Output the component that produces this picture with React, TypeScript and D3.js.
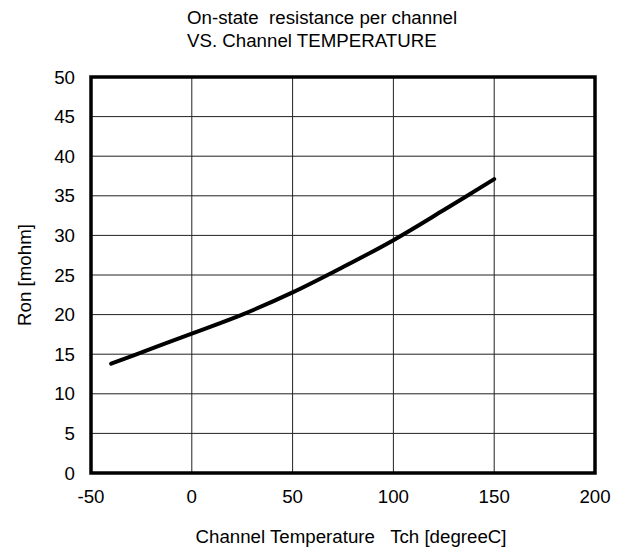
import React from "react";
import * as d3 from "d3";

const temps = [-40, -20, 0, 25, 50, 75, 100, 125, 150];
const ron = [13.8, 15.7, 17.6, 20.0, 22.8, 26.0, 29.4, 33.2, 37.1];
const xTicks = [-50, 0, 50, 100, 150, 200];
const yTicks = [0, 5, 10, 15, 20, 25, 30, 35, 40, 45, 50];
const titleLines = ["On-state  resistance per channel", "VS. Channel TEMPERATURE"];
const xLabel = "Channel Temperature   Tch [degreeC]";
const yLabel = "Ron [mohm]";

const W = 624, H = 551;
const L = 91, R = 595, T = 77, B = 473;
const FS = 18.7;

export default function App() {
  const x = d3.scaleLinear().domain([-50, 200]).range([L, R]);
  const y = d3.scaleLinear().domain([0, 50]).range([B, T]);
  const line = d3
    .line<number>()
    .x((_, i) => x(temps[i]))
    .y((d) => y(d))
    .curve(d3.curveCatmullRom);
  const font = "'Liberation Sans', Arial, sans-serif";
  return (
    <svg width={W} height={H} style={{ position: "absolute", left: 0, top: 0, background: "#fff" }} fontFamily={font}>
      <rect x={0} y={0} width={W} height={H} fill="#fff" />
      {titleLines.map((t, i) => (
        <text key={i} x={187} y={24 + i * 23} fontSize={FS} fill="#000" style={{ whiteSpace: "pre" }}>
          {t}
        </text>
      ))}
      {xTicks.map((v) => (
        <line key={"gx" + v} x1={x(v)} x2={x(v)} y1={T} y2={B} stroke="#222" strokeWidth={1} />
      ))}
      {yTicks.map((v) => (
        <line key={"gy" + v} x1={L} x2={R} y1={y(v)} y2={y(v)} stroke="#222" strokeWidth={1} />
      ))}
      <rect x={L} y={T} width={R - L} height={B - T} fill="none" stroke="#000" strokeWidth={3.5} />
      <path d={line(ron) || ""} fill="none" stroke="#000" strokeWidth={4} strokeLinecap="round" />
      {yTicks.map((v) => (
        <text key={"ty" + v} x={75} y={y(v) + 6.5} fontSize={FS} textAnchor="end" fill="#000">
          {v}
        </text>
      ))}
      {xTicks.map((v) => (
        <text key={"tx" + v} x={x(v)} y={503} fontSize={FS} textAnchor="middle" fill="#000">
          {v}
        </text>
      ))}
      <text x={351} y={543} fontSize={FS} textAnchor="middle" fill="#000" style={{ whiteSpace: "pre" }}>
        {xLabel}
      </text>
      <text transform={`translate(31,${(T + B) / 2}) rotate(-90)`} fontSize={FS} textAnchor="middle" fill="#000" style={{ whiteSpace: "pre" }}>
        {yLabel}
      </text>
    </svg>
  );
}
